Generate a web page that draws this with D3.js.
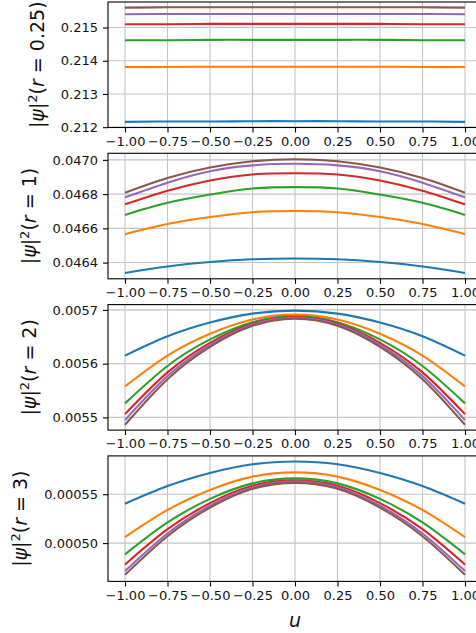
<!DOCTYPE html>
<meta charset="utf-8">
<script src="https://cdn.jsdelivr.net/npm/d3@7"></script>
<style>
  body { margin: 0; background: #fff; }
  text { font-family: "DejaVu Sans", sans-serif; }
</style>
<body>
<script>

var width = 476
var height = 633

var uVals = [-1, -0.75, -0.5, -0.25, 0, 0.25, 0.5, 0.75, 1]
var xTicks = [-1, -0.75, -0.5, -0.25, 0, 0.25, 0.5, 0.75, 1]
var colors = ['#1f77b4', '#ff7f0e', '#2ca02c', '#d62728', '#9467bd', '#8c564b']

// r = 0.25
var r025_blue   = [0.21216, 0.21217, 0.21217, 0.21218, 0.21218, 0.21218, 0.21217, 0.21217, 0.21216]
var r025_orange = [0.21381, 0.21381, 0.21382, 0.21382, 0.21382, 0.21382, 0.21382, 0.21381, 0.21381]
var r025_green  = [0.21462, 0.21462, 0.21463, 0.21463, 0.21463, 0.21463, 0.21463, 0.21462, 0.21462]
var r025_red    = [0.21510, 0.21510, 0.21511, 0.21511, 0.21511, 0.21511, 0.21511, 0.21510, 0.21510]
var r025_purple = [0.21540, 0.21541, 0.21541, 0.21541, 0.21541, 0.21541, 0.21541, 0.21541, 0.21540]
var r025_brown  = [0.21560, 0.21561, 0.21561, 0.21561, 0.21561, 0.21561, 0.21561, 0.21561, 0.21560]

// r = 1
var r1_blue   = [0.046339, 0.046377, 0.046403, 0.046419, 0.046424, 0.046419, 0.046403, 0.046377, 0.046339]
var r1_orange = [0.046566, 0.046625, 0.046666, 0.046694, 0.046701, 0.046694, 0.046666, 0.046625, 0.046566]
var r1_green  = [0.046678, 0.046749, 0.046797, 0.046833, 0.046841, 0.046833, 0.046797, 0.046749, 0.046678]
var r1_red    = [0.046740, 0.046820, 0.046880, 0.046915, 0.046922, 0.046915, 0.046880, 0.046820, 0.046740]
var r1_purple = [0.046781, 0.046867, 0.046934, 0.046968, 0.046977, 0.046968, 0.046934, 0.046867, 0.046781]
var r1_brown  = [0.046808, 0.046894, 0.046955, 0.046992, 0.047004, 0.046992, 0.046955, 0.046894, 0.046808]

// r = 2
var r2_blue   = [0.0056149, 0.0056509, 0.0056765, 0.0056931, 0.0056987, 0.0056931, 0.0056765, 0.0056509, 0.0056149]
var r2_orange = [0.0055577, 0.0056151, 0.0056558, 0.0056823, 0.0056912, 0.0056823, 0.0056558, 0.0056151, 0.0055577]
var r2_green  = [0.0055261, 0.0055957, 0.0056451, 0.0056772, 0.0056880, 0.0056772, 0.0056451, 0.0055957, 0.0055261]
var r2_red    = [0.0055061, 0.0055838, 0.0056388, 0.0056746, 0.0056867, 0.0056746, 0.0056388, 0.0055838, 0.0055061]
var r2_purple = [0.0054950, 0.0055769, 0.0056350, 0.0056727, 0.0056855, 0.0056727, 0.0056350, 0.0055769, 0.0054950]
var r2_brown  = [0.0054862, 0.0055711, 0.0056313, 0.0056704, 0.0056836, 0.0056704, 0.0056313, 0.0055711, 0.0054862]

// r = 3
var r3_blue   = [0.0005402, 0.0005583, 0.0005717, 0.0005806, 0.0005834, 0.0005806, 0.0005717, 0.0005583, 0.0005402]
var r3_orange = [0.0005061, 0.0005339, 0.0005544, 0.0005680, 0.0005723, 0.0005680, 0.0005544, 0.0005339, 0.0005061]
var r3_green  = [0.0004885, 0.0005211, 0.0005452, 0.0005611, 0.0005662, 0.0005611, 0.0005452, 0.0005211, 0.0004885]
var r3_red    = [0.0004780, 0.0005142, 0.0005409, 0.0005586, 0.0005642, 0.0005586, 0.0005409, 0.0005142, 0.0004780]
var r3_purple = [0.0004713, 0.0005098, 0.0005382, 0.0005569, 0.0005629, 0.0005569, 0.0005382, 0.0005098, 0.0004713]
var r3_brown  = [0.0004675, 0.0005070, 0.0005362, 0.0005555, 0.0005616, 0.0005555, 0.0005362, 0.0005070, 0.0004675]

var rLabels = ['0.25', '1', '2', '3']
var yDomains = [[0.21199, 0.21577], [0.0463052, 0.0470384], [0.0054764, 0.0057099], [0.0004608, 0.0005892]]
var yTicks = [[0.212, 0.213, 0.214, 0.215], [0.0464, 0.0466, 0.0468, 0.0470], [0.0055, 0.0056, 0.0057], [0.0005, 0.00055]]
var yFormats = ['.3f', '.4f', '.4f', '.5f']

var panels = [
  [r025_blue, r025_orange, r025_green, r025_red, r025_purple, r025_brown],
  [r1_blue, r1_orange, r1_green, r1_red, r1_purple, r1_brown],
  [r2_blue, r2_orange, r2_green, r2_red, r2_purple, r2_brown],
  [r3_blue, r3_orange, r3_green, r3_red, r3_purple, r3_brown]
]

var left = 108, right = 482
var top0 = 2, step = 151.3, ph = 125.5

var svg = d3.select("body").append("svg")
            .attr("width", width)
            .attr("height", height)
            .style("display", "block")

svg.append("rect").attr("width", width).attr("height", height).attr("fill", "#fff")

var x = d3.scaleLinear().domain([-1.1, 1.1]).range([left, right])

panels.forEach(function(series, k) {
  var top = top0 + step * k
  var bottom = top + ph
  var y = d3.scaleLinear().domain(yDomains[k]).range([bottom, top])
  var g = svg.append("g")

  g.append("clipPath").attr("id", "clip" + k)
    .append("rect").attr("x", left).attr("y", top).attr("width", right - left).attr("height", ph)

  // grid
  g.selectAll(".gx").data(xTicks).enter().append("line")
    .attr("x1", d => x(d)).attr("x2", d => x(d)).attr("y1", top).attr("y2", bottom)
    .attr("stroke", "#c4c4c4").attr("stroke-width", 1.1)
  g.selectAll(".gy").data(yTicks[k]).enter().append("line")
    .attr("x1", left).attr("x2", right).attr("y1", d => y(d)).attr("y2", d => y(d))
    .attr("stroke", "#c4c4c4").attr("stroke-width", 1.1)

  var line = d3.line().x((d, i) => x(uVals[i])).y(d => y(d)).curve(d3.curveNatural)
  g.append("g").attr("clip-path", "url(#clip" + k + ")")
    .selectAll("path").data(series).enter().append("path")
    .attr("d", d => line(d))
    .attr("fill", "none")
    .attr("stroke", (d, i) => colors[i])
    .attr("stroke-width", 2.1)

  // frame
  g.append("rect").attr("x", left).attr("y", top).attr("width", right - left).attr("height", ph)
    .attr("fill", "none").attr("stroke", "#000").attr("stroke-width", 1.1)

  var xa = g.append("g")
    .attr("transform", "translate(0," + bottom + ")")
    .call(d3.axisBottom(x).tickValues(xTicks).tickFormat(d3.format(".2f")).tickSize(5).tickPadding(4).tickSizeOuter(0))
  var ya = g.append("g")
    .attr("transform", "translate(" + left + ",0)")
    .call(d3.axisLeft(y).tickValues(yTicks[k]).tickFormat(d3.format(yFormats[k])).tickSize(5).tickPadding(5).tickSizeOuter(0))

  ;[xa, ya].forEach(function(a) {
    a.select(".domain").remove()
    a.selectAll("line").attr("stroke", "#000").attr("stroke-width", 1.1)
    a.selectAll("text").attr("fill", "#111").style("font-size", "13px").style("font-family", "DejaVu Sans")
  })

  // y label |psi|^2(r = ...)
  var bb = ya.node().getBBox()
  var lx = left + bb.x - 17
  var ly = (top + bottom) / 2
  var t = g.append("text")
    .attr("transform", "translate(" + lx + "," + ly + ") rotate(-90)")
    .attr("text-anchor", "middle")
    .style("font-size", "19px")
    .attr("fill", "#111")
  t.append("tspan").text("|")
  t.append("tspan").style("font-style", "italic").text("ψ")
  t.append("tspan").text("|")
  t.append("tspan").attr("dy", -7).style("font-size", "13px").text("2")
  t.append("tspan").attr("dy", 7).text("(")
  t.append("tspan").style("font-style", "italic").text("r")
  t.append("tspan").text(" = " + rLabels[k] + ")")
})

svg.append("text")
   .attr("x", x(0))
   .attr("y", 627)
   .attr("text-anchor", "middle")
   .style("font-size", "19px")
   .style("font-style", "italic")
   .attr("fill", "#111")
   .text("u")

</script>
</body>
